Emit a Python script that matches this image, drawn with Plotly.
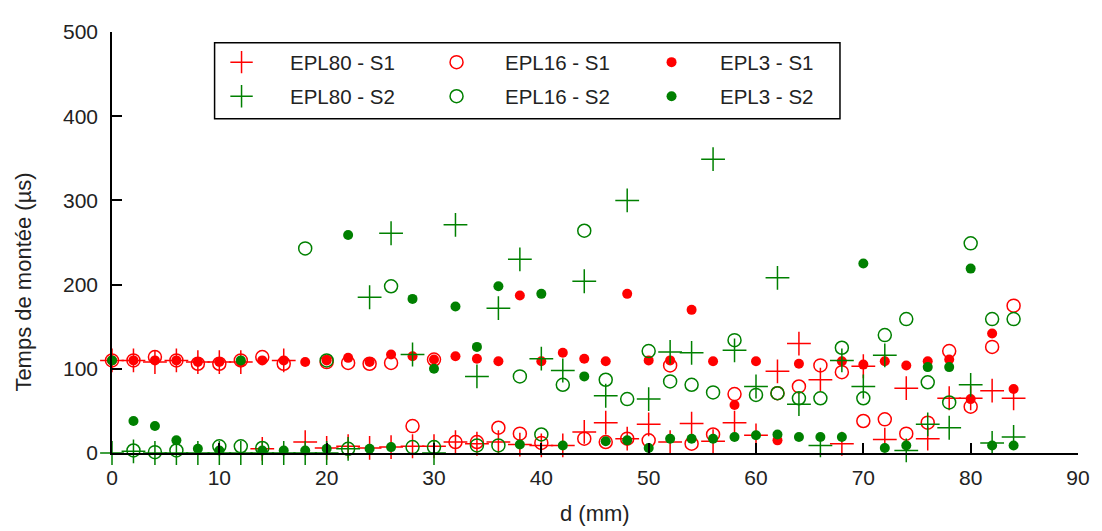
import plotly.graph_objects as go

# ---- data (d in mm, rise time in µs) ----
epl80_s1_x = [0, 2, 4, 6, 8, 10, 12, 16,
              14, 18, 20, 22, 24, 26, 28, 30, 32, 34, 36, 38, 40, 42, 44, 46, 48, 50,
              52, 54, 56, 58, 60, 62, 64, 66, 68, 70, 72, 74, 76, 78, 80, 82, 84]
epl80_s1_y = [110, 110, 108, 110, 108, 108, 108, 110,
              5, 13, 6, 8, 6, 7, 8, 8, 13, 11, 13, 10, 9, 9, 25, 36, 17, 34,
              13, 35, 14, 36, 21, 97, 130, 87, 11, 103, 16, 77, 17, 65, 65, 74, 65]

epl16_s1_x = [0, 2, 4, 6, 8, 10, 12, 14, 16, 20, 22, 24, 26, 30,
              28, 32, 34, 36, 38, 40, 44, 46, 48, 50, 52, 54, 56, 58, 62, 64, 66,
              68, 70, 72, 74, 76, 78, 80, 82, 84]
epl16_s1_y = [110, 110, 114, 110, 106, 106, 110, 114, 106, 108, 107, 106, 107, 111,
              32, 13, 13, 30, 23, 12, 17, 13, 17, 15, 104, 11, 22, 70, 71, 79, 104,
              96, 38, 40, 23, 36, 121, 55, 126, 175]

epl3_s1_x = [0, 2, 4, 6, 8, 10, 12, 14, 16, 18, 20, 22, 24, 26, 28, 30, 32, 34, 36, 38,
             40, 42, 44, 46, 48, 50, 52, 54, 56, 58, 60, 62, 64, 68, 70, 72, 74, 76, 78,
             80, 82, 84]
epl3_s1_y = [110, 110, 110, 110, 108, 108, 108, 110, 110, 108, 110, 113, 108, 117, 115,
             111, 115, 112, 109, 187, 109, 119, 112, 109, 189, 110, 110, 170, 109, 57,
             109, 15, 106, 109, 105, 109, 104, 109, 111, 64, 142, 76]

epl80_s2_x = [0, 2, 4, 6, 8, 10, 12, 14, 16, 18, 20, 22, 24, 26, 28, 30, 32, 34, 36, 38,
              40, 42, 44, 46, 48, 50, 52, 54, 56, 58, 60, 62, 64, 66, 68, 70, 72, 74, 76,
              78, 80, 82, 84]
epl80_s2_y = [0, 2, 0, 0, 0, 0, 0, 0, 0, 0, 0, 5, 185, 261, 117, 0, 271, 91, 172, 230,
              112, 98, 204, 68, 300, 64, 120, 119, 349, 122, 79, 208, 58, 9, 110, 79, 116,
              3, 34, 30, 81, 12, 19]

epl16_s2_x = [2, 4, 6, 10, 12, 14, 18, 20, 22, 26, 28, 30, 34, 36, 38, 40, 42, 44, 46, 48,
              50, 52, 54, 56, 58, 60, 62, 64, 66, 68, 70, 72, 74, 76, 78, 80, 82, 84]
epl16_s2_y = [3, 1, 3, 8, 8, 6, 243, 110, 5, 198, 7, 7, 9, 9, 91, 22, 81, 264, 87, 64,
              121, 85, 81, 72, 134, 69, 71, 65, 65, 125, 65, 140, 159, 84, 60, 249, 159, 159]

epl3_s2_x = [0, 2, 4, 6, 8, 10, 12, 14, 16, 18, 20, 22, 24, 26, 28, 30, 32, 34, 36, 38,
             40, 42, 44, 46, 48, 50, 52, 54, 56, 58, 60, 62, 64, 66, 68, 70, 72, 74, 76,
             78, 80, 82, 84]
epl3_s2_y = [110, 38, 32, 15, 5, 3, 110, 3, 3, 3, 5, 259, 5, 7, 183, 100, 174, 126, 198,
             10, 189, 9, 91, 14, 15, 6, 17, 17, 17, 19, 21, 22, 19, 19, 19, 225, 6, 9, 102,
             102, 219, 9, 9]

x_ticks = [0, 10, 20, 30, 40, 50, 60, 70, 80, 90]
y_ticks = [0, 100, 200, 300, 400, 500]

RED = "#FF0000"
GREEN = "#008000"
FONT = "Liberation Sans, Arial, sans-serif"
TXT = "#222222"
pad = "\u00a0" * 5

series = [
    ("EPL80 - S1", epl80_s1_x, epl80_s1_y, "cross-thin-open", 17, RED, "legend"),
    ("EPL16 - S1", epl16_s1_x, epl16_s1_y, "circle-open", 13, RED, "legend"),
    ("EPL3 - S1", epl3_s1_x, epl3_s1_y, "circle", 10, RED, "legend"),
    ("EPL80 - S2", epl80_s2_x, epl80_s2_y, "cross-thin-open", 17, GREEN, "legend2"),
    ("EPL16 - S2", epl16_s2_x, epl16_s2_y, "circle-open", 13, GREEN, "legend2"),
    ("EPL3 - S2", epl3_s2_x, epl3_s2_y, "circle", 10, GREEN, "legend2"),
]

fig = go.Figure()
for name, xs, ys, sym, size, col, leg in series:
    if sym == "circle":
        marker = dict(symbol=sym, size=size, color=col, line=dict(width=0))
    else:
        marker = dict(symbol=sym, size=size, color=col, line=dict(width=1.5, color=col))
    fig.add_trace(go.Scatter(x=xs, y=ys, mode="markers", name=pad + name,
                             marker=marker, cliponaxis=False, legend=leg))

axis_common = dict(
    showgrid=False, zeroline=False, showline=True, linecolor="black", linewidth=1.5,
    ticks="inside", ticklen=10, tickwidth=1.5, tickcolor="black",
    tickfont=dict(family=FONT, size=21, color=TXT),
)

legend_common = dict(
    orientation="h", x=0.1134, xanchor="left", yanchor="middle",
    bgcolor="rgba(0,0,0,0)", borderwidth=0,
    font=dict(family=FONT, size=20.5, color=TXT),
    entrywidth=170, entrywidthmode="pixels",
)

# page body adds an 8px offset; compensate so the plot area sits where the reference has it
fig.update_layout(
    width=1094, height=523,
    margin=dict(l=104, r=20, t=13, b=78),
    plot_bgcolor="white", paper_bgcolor="white",
    font=dict(family=FONT, size=20, color=TXT),
    xaxis=dict(range=[0, 90], tickvals=x_ticks, ticklabelstandoff=5, **axis_common),
    yaxis=dict(range=[0, 500], tickvals=y_ticks, ticklabelstandoff=8, **axis_common),
    legend=dict(y=0.928, **legend_common),
    legend2=dict(y=0.847, **legend_common),
    shapes=[
        dict(type="rect", xref="paper", yref="paper", x0=0.1062, x1=0.7536,
             y0=0.794, y1=0.9745, line=dict(color="black", width=1.5),
             fillcolor="white", layer="above"),
    ],
    annotations=[
        dict(text="Temps de montée (µs)", textangle=-90, xref="paper", yref="paper",
             x=-0.092, y=0.405, xanchor="center", yanchor="middle", showarrow=False,
             font=dict(family=FONT, size=22, color=TXT)),
        dict(text="d (mm)", xref="paper", yref="paper", x=0.5, y=-0.1435,
             xanchor="center", yanchor="middle", showarrow=False,
             font=dict(family=FONT, size=22, color=TXT)),
    ],
)

fig.write_html("out.html")
